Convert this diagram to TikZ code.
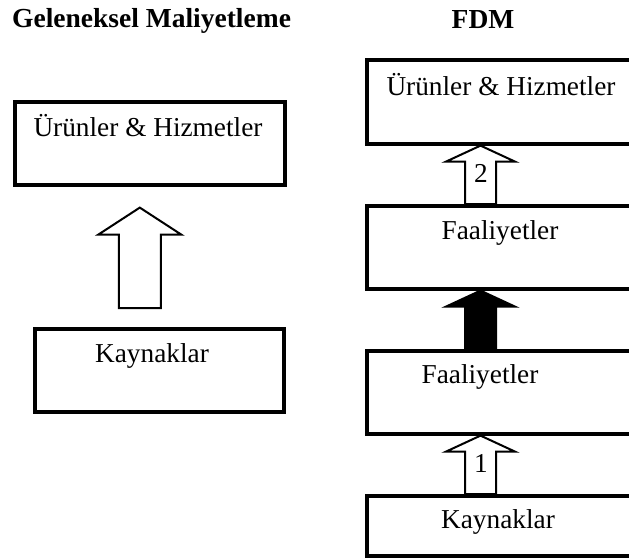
\documentclass[tikz,border=0pt]{standalone}
\usepackage{fontspec}
\setmainfont{Liberation Serif}
\usetikzlibrary{calc}

\tikzset{
  boxframe/.style={draw=black, line width=3.6pt, fill=white, minimum width=#1, inner sep=0pt, anchor=north west},
  boxtxt/.style={inner sep=0pt, anchor=base, font=\fontsize{27.3}{32}\selectfont},
  headtxt/.style={inner sep=0pt, anchor=base, font=\fontsize{27.5}{32}\selectfont\bfseries},
  openarrow/.style={draw=black, line width=2pt, fill=white, line join=miter},
  solidarrow/.style={draw=black, line width=2pt, fill=black, line join=miter}
}

% block arrow pointing up: #1 style, #2 foot, #3 tip, #4 shaft half width, #5 head half width, #6 head length
\newcommand\blockup[6]{%
  \draw[#1] ($(#2)+(-#4,0)$) -- ($(#3)+(-#4,#6)$) -- ($(#3)+(-#5,#6)$) -- (#3)
    -- ($(#3)+(#5,#6)$) -- ($(#3)+(#4,#6)$) -- ($(#2)+(#4,0)$) -- cycle;}

\begin{document}
\begin{tikzpicture}[x=1pt, y=-1pt]
  \useasboundingbox (0,0) rectangle (629,558);
  \clip (0,0) rectangle (629,558);

  % headings
  \node[headtxt, anchor=base west] (hleft) at (12,27) {Geleneksel Maliyetleme};
  \node[headtxt] (hright) at (483,28) {FDM};

  % traditional costing column
  \node[boxframe=270pt, minimum height=83pt] (lprod) at (13,100) {};
  \node[boxtxt] (lprodt) at (148,136) {Ürünler \& Hizmetler};
  \node[boxframe=249pt, minimum height=83pt] (lres) at (33,327) {};
  \node[boxtxt] (lrest) at (152,362) {Kaynaklar};

  \coordinate (lfoot) at ($(lres.north)+(-19.5,-19)$);
  \coordinate (ltip) at ($(lprod.south)+(-10,21)$);
  \blockup{openarrow}{lfoot}{ltip}{21}{41.5}{27}

  % activity-based column
  \node[boxframe=300pt, minimum height=84pt] (rprod) at (365,58) {};
  \node[boxtxt] (rprodt) at (501,95) {Ürünler \& Hizmetler};
  \node[boxframe=300pt, minimum height=83pt] (ract2) at (365,204) {};
  \node[boxtxt] (ract2t) at (500,239) {Faaliyetler};
  \node[boxframe=300pt, minimum height=83pt] (ract1) at (365,349) {};
  \node[boxtxt] (ract1t) at (480,383) {Faaliyetler};
  \node[boxframe=300pt, minimum height=60pt] (rres) at (365,494) {};
  \node[boxtxt] (rrest) at (498,528) {Kaynaklar};

  \coordinate (ax) at (480.5,0);
  \blockup{openarrow}{ax |- ract2.north}{ax |- rprod.south}{15.5}{34.5}{16}
  \blockup{solidarrow}{ax |- ract1.north}{ax |- ract2.south}{15.5}{34.5}{16}
  \blockup{openarrow}{ax |- rres.north}{ax |- ract1.south}{15.5}{34.5}{16}

  \node[boxtxt] (n2) at (481,182) {2};
  \node[boxtxt] (n1) at (481,472) {1};
\end{tikzpicture}
\end{document}
